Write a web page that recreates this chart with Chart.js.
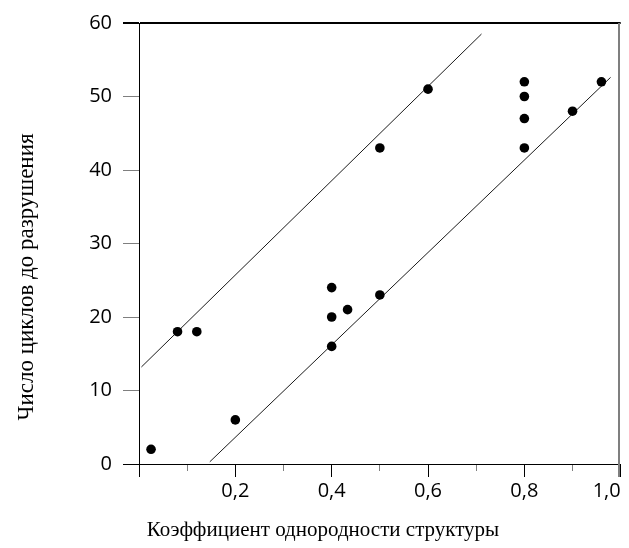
<!DOCTYPE html>
<html lang="ru">
<head>
<meta charset="utf-8">
<title>Число циклов до разрушения</title>
<script src="https://cdn.jsdelivr.net/npm/chart.js@4.4.1/dist/chart.umd.min.js"></script>
<style>
  html, body { margin: 0; padding: 0; background: #fff; overflow: hidden; }
  canvas { display: block; }
</style>
</head>
<body>
<canvas id="chart" width="629" height="548"></canvas>
<script>
const xTitle = 'Коэффициент однородности структуры';
const yTitle = 'Число циклов до разрушения';

// points
const pointX = [0.025, 0.08, 0.12, 0.2, 0.4, 0.4, 0.4, 0.433, 0.5, 0.5, 0.6, 0.8, 0.8, 0.8, 0.8, 0.9, 0.96];
const pointY = [2, 18, 18, 6, 16, 20, 24, 21, 23, 43, 51, 43, 47, 50, 52, 48, 52];

// the two straight lines, start and end
const upperLineX = [0.005, 0.711];
const upperLineY = [13.2, 58.5];
const lowerLineX = [0.147, 0.979];
const lowerLineY = [0.3, 52.6];

// x tick labels, keyed by tenths
const xTickLabels = { 2: '0,2', 4: '0,4', 6: '0,6', 8: '0,8', 10: '1,0' };

const toXY = (xs, ys) => xs.map((x, i) => ({ x: x, y: ys[i] }));
const tenths = v => Math.round(v * 10);
const clear = 'rgba(0,0,0,0)';
const grey = '#7f7f7f';
const tickFont = { family: 'Open Sans', size: 20 };

// axis titles are centred on the picture, not on the axes
const axisTitles = {
    id: 'axisTitles',
    afterDraw(chart) {
        const c = chart.ctx;
        c.save();
        c.fillStyle = '#000';
        c.textAlign = 'center';
        c.textBaseline = 'alphabetic';
        c.font = '21px "Liberation Serif"';
        c.fillText(xTitle, 323, 536);
        c.font = '23px "Liberation Serif"';
        c.translate(33, 277);
        c.rotate(-Math.PI / 2);
        c.fillText(yTitle, 0, 0);
        c.restore();
    }
};

// grey frame line on the right (2px), running down past the axis like a tick.
// kept just inside the plot edge, at the edge itself it did not show up
const rightFrame = {
    id: 'rightFrame',
    afterDraw(chart) {
        const xs = chart.scales.x;
        const a = chart.chartArea;
        const px = Math.floor(xs.getPixelForValue(xs.max)) - 1;
        const c = chart.ctx;
        c.save();
        c.strokeStyle = grey;
        c.lineWidth = 2;
        c.beginPath();
        c.moveTo(px, a.top);
        c.lineTo(px, a.bottom + 13);
        c.stroke();
        c.restore();
    }
};

new Chart(document.getElementById('chart'), {
    type: 'scatter',
    data: {
        datasets: [
            { data: toXY(pointX, pointY), pointRadius: 4.8, pointBackgroundColor: '#000', pointBorderColor: '#000', pointBorderWidth: 0 },
            { data: toXY(upperLineX, upperLineY), showLine: true, pointRadius: 0, borderColor: '#1a1a1a', borderWidth: 1 },
            { data: toXY(lowerLineX, lowerLineY), showLine: true, pointRadius: 0, borderColor: '#1a1a1a', borderWidth: 1 }
        ]
    },
    options: {
        responsive: false,
        animation: false,
        layout: { padding: { top: 19.5, right: 8.3, bottom: 0, left: 0 } },
        plugins: { legend: { display: false }, tooltip: { enabled: false } },
        scales: {
            x: {
                type: 'linear', position: 'bottom', min: 0, max: 1,
                afterFit: s => { s.height = 84; },
                border: { color: '#000', width: 1 },
                grid: {
                    drawOnChartArea: false,
                    tickColor: ctx => ctx.tick && tenths(ctx.tick.value) % 2 ? grey : '#000',
                    tickBorderDash: ctx => ctx.tick && tenths(ctx.tick.value) % 2 ? [6, 40] : [],
                    tickLength: 13
                },
                ticks: {
                    stepSize: 0.1, autoSkip: false, maxRotation: 0, align: 'inner', padding: 2,
                    color: '#000', font: tickFont,
                    callback: v => xTickLabels[tenths(v)] || ''
                }
            },
            y: {
                type: 'linear', position: 'left', min: 0, max: 60,
                afterFit: s => { s.width = 139; },
                border: { color: '#000', width: 1 },
                grid: {
                    drawOnChartArea: true,
                    color: ctx => ctx.tick && ctx.tick.value === 60 ? '#000' : clear,
                    lineWidth: ctx => ctx.tick && ctx.tick.value === 60 ? 2 : 1,
                    tickColor: ctx => ctx.tick && (ctx.tick.value === 0 || ctx.tick.value === 60) ? '#000' : grey,
                    tickLength: 16
                },
                ticks: { stepSize: 10, padding: 11, color: '#000', font: tickFont }
            }
        }
    },
    plugins: [axisTitles, rightFrame]
});
</script>
</body>
</html>
